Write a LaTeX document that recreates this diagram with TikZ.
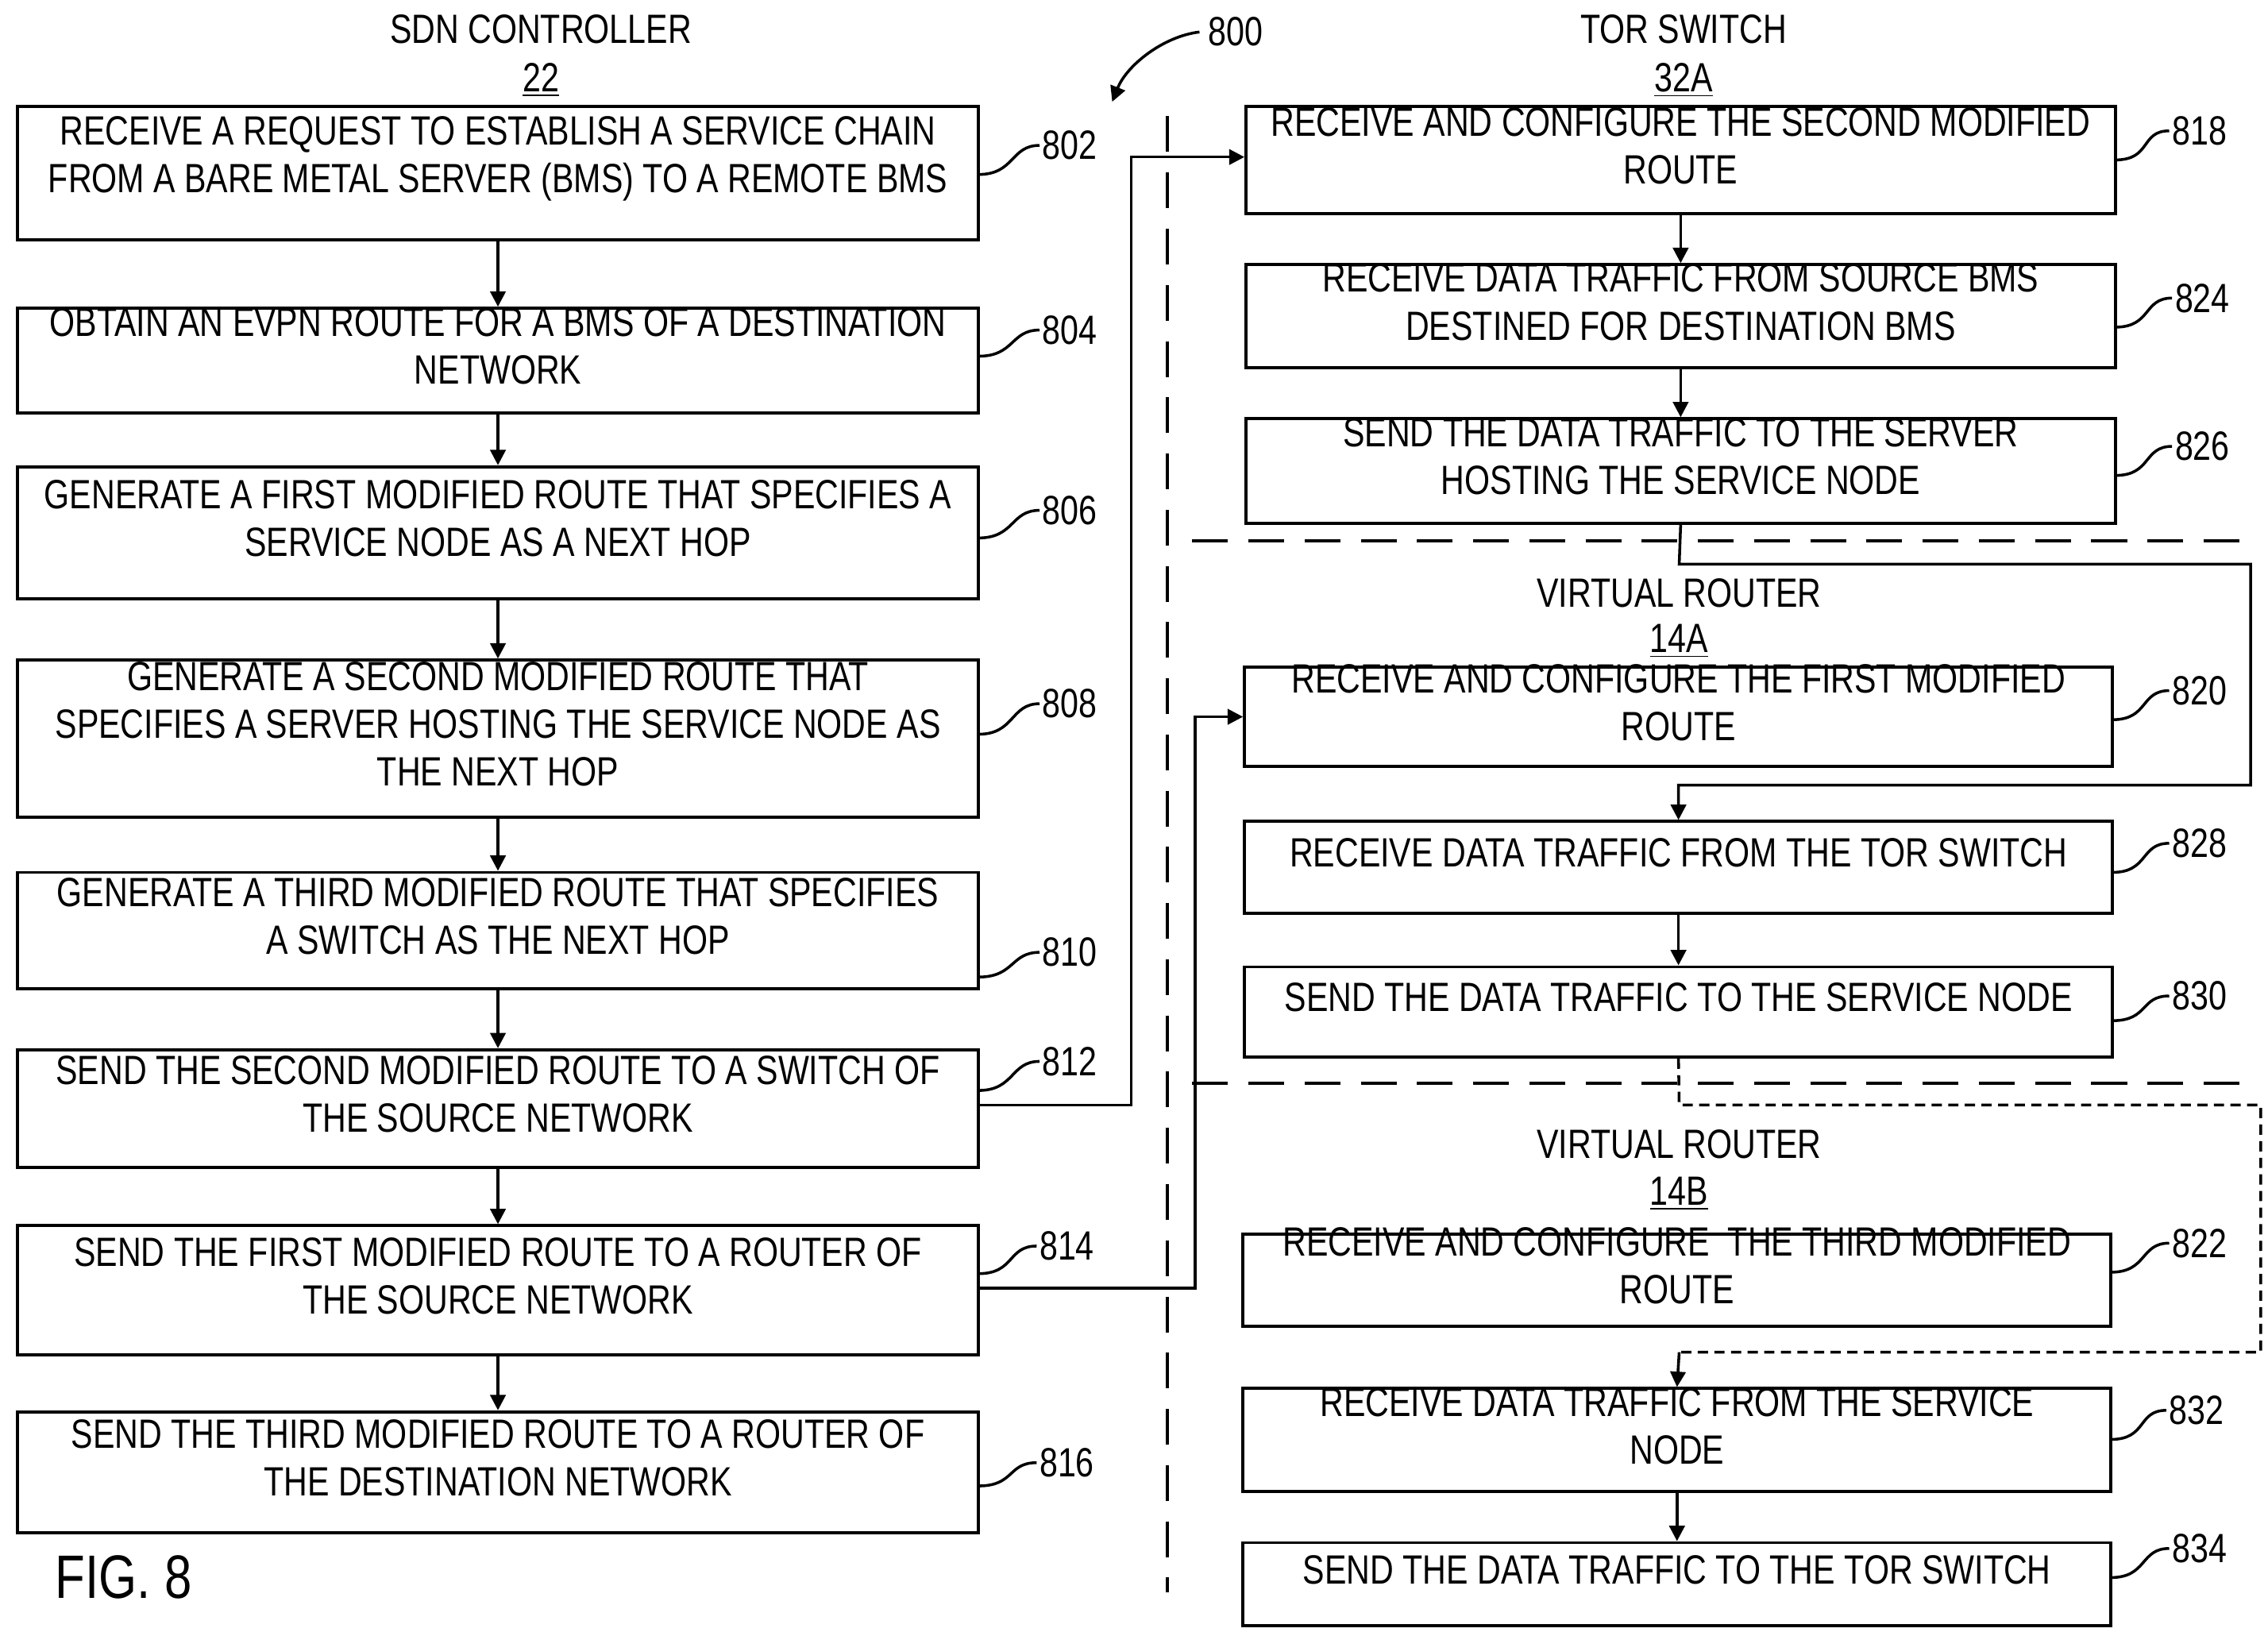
\documentclass[tikz,border=0pt]{standalone}
\usepackage{fontspec}
\setmainfont{Liberation Sans}[FakeStretch=0.8]
\usetikzlibrary{fit,arrows.meta}
\begin{document}
\begin{tikzpicture}[x=0.02cm,y=-0.02cm,
  font=\fontsize{16}{18.7}\selectfont,
  box/.style={draw,line width=1.2pt,inner sep=0pt,align=center},
  arr/.style={line width=1.1pt,-{Triangle[length=6pt,width=6pt]}},
  ln/.style={line width=1.1pt},
  lab/.style={anchor=west,inner sep=1pt},
  dsh/.style={line width=1.4pt,dash pattern=on 14pt off 8pt},
  fdsh/.style={line width=1.1pt,dash pattern=on 4pt off 2.5pt}]
\useasboundingbox (0,0) rectangle (1560,1125);
% headers
\node (h1) at (372,20) {SDN CONTROLLER};
\node (h1n) at (372,55) {\underline{22}};
\node (h2) at (1158,20) {TOR SWITCH};
\node (h2n) at (1158,55) {\underline{32A}};
\node (h3) at (1155,408) {VIRTUAL ROUTER};
\node (h3n) at (1155,441) {\underline{14A}};
\node (h4) at (1155,787) {VIRTUAL ROUTER};
\node (h4n) at (1155,821) {\underline{14B}};
\node (n800) at (850,22) {800};
\coordinate (p800) at (765,70);
\draw[arr] (n800.west) .. controls (800,25) and (775,45) .. (p800);
\node (fig) at (85,1085) {\fontsize{24}{24}\selectfont FIG. 8};
% left boxes
\node[box,fit={(12,73)(673,165)}] (b802) {RECEIVE A REQUEST TO ESTABLISH A SERVICE CHAIN\\FROM A BARE METAL SERVER (BMS) TO A REMOTE BMS};
\node[box,fit={(12,212)(673,284)}] (b804) {OBTAIN AN EVPN ROUTE FOR A BMS OF A DESTINATION\\NETWORK};
\node[box,fit={(12,321)(673,412)}] (b806) {GENERATE A FIRST MODIFIED ROUTE THAT SPECIFIES A\\SERVICE NODE AS A NEXT HOP};
\node[box,fit={(12,454)(673,562)}] (b808) {GENERATE A SECOND MODIFIED ROUTE THAT\\SPECIFIES A SERVER HOSTING THE SERVICE NODE AS\\THE NEXT HOP};
\node[box,fit={(12,600)(673,680)}] (b810) {GENERATE A THIRD MODIFIED ROUTE THAT SPECIFIES\\A SWITCH AS THE NEXT HOP};
\node[box,fit={(12,722)(673,803)}] (b812) {SEND THE SECOND MODIFIED ROUTE TO A SWITCH OF\\THE SOURCE NETWORK};
\node[box,fit={(12,843)(673,932)}] (b814) {SEND THE FIRST MODIFIED ROUTE TO A ROUTER OF\\THE SOURCE NETWORK};
\node[box,fit={(12,971)(673,1054)}] (b816) {SEND THE THIRD MODIFIED ROUTE TO A ROUTER OF\\THE DESTINATION NETWORK};
\foreach \a/\b in {802/804,804/806,806/808,808/810,810/812,812/814,814/816}
  \draw[arr] (b\a) -- (b\b);
% right boxes
\node[box,fit={(857,73)(1455,147)}] (b818) {RECEIVE AND CONFIGURE THE SECOND MODIFIED\\ROUTE};
\node[box,fit={(857,182)(1455,253)}] (b824) {RECEIVE DATA TRAFFIC FROM SOURCE BMS\\DESTINED FOR DESTINATION BMS};
\node[box,fit={(857,288)(1455,360)}] (b826) {SEND THE DATA TRAFFIC TO THE SERVER\\HOSTING THE SERVICE NODE};
\node[box,fit={(856,459)(1453,527)}] (b820) {RECEIVE AND CONFIGURE THE FIRST MODIFIED\\ROUTE};
\node[box,fit={(856,565)(1453,628)}] (b828) {RECEIVE DATA TRAFFIC FROM THE TOR SWITCH};
\node[box,fit={(856,665)(1453,727)}] (b830) {SEND THE DATA TRAFFIC TO THE SERVICE NODE};
\node[box,fit={(855,849)(1452,912)}] (b822) {RECEIVE AND CONFIGURE\ \ THE THIRD MODIFIED\\ROUTE};
\node[box,fit={(855,955)(1452,1026)}] (b832) {RECEIVE DATA TRAFFIC FROM THE SERVICE\\NODE};
\node[box,fit={(855,1061)(1452,1118)}] (b834) {SEND THE DATA TRAFFIC TO THE TOR SWITCH};
\foreach \a/\b in {818/824,824/826,828/830,832/834}
  \draw[arr] (b\a) -- (b\b);
% swimlane separators
\coordinate (v1) at (803,80); \coordinate (v2) at (803,1095);
\draw[dsh] (v1) -- (v2);
\coordinate (s1a) at (820,372); \coordinate (s1b) at (1548,372);
\draw[dsh] (s1a) -- (s1b);
\coordinate (s2a) at (820,745); \coordinate (s2b) at (1548,745);
\draw[dsh] (s2a) -- (s2b);
% cross connectors
\draw[arr] (b812.east |- 0,760) -| (778,108) -- (b818.west |- 0,108);
\draw[arr] (b814.east |- 0,886) -| (822,493) -- (b820.west |- 0,493);
\draw[arr] (b826.south) -- (1155,388) -| (1548,540) -| (b828.north);
\draw[fdsh] (b830.south) -- (1155,760) -| (1555,930) -- (1155,930);
\draw[arr] (1155,930) -- (b832.north);
% labels
\foreach \n/\x/\y/\bx/\by in {802/715/100/673/120,804/715/227/673/245,806/715/351/673/370,808/715/484/673/505,810/715/655/673/672,812/715/730/673/750,814/713/857/673/876,816/713/1006/673/1022}
 {\node[lab] (l\n) at (\x,\y) {\n};
  \draw[ln] (\bx,\by) .. controls (\bx+25,\by) and (\x-20,\y) .. (l\n.west);}
\foreach \n/\x/\y/\bx/\by in {818/1492/90/1455/110,824/1494/205/1455/225,826/1494/307/1455/327,820/1492/475/1453/495,828/1492/580/1453/600,830/1492/685/1453/702,822/1492/855/1452/875,832/1490/970/1452/990,834/1492/1065/1452/1085}
 {\node[lab] (l\n) at (\x,\y) {\n};
  \draw[ln] (\bx,\by) .. controls (\bx+25,\by) and (\x-20,\y) .. (l\n.west);}
\end{tikzpicture}
\end{document}
